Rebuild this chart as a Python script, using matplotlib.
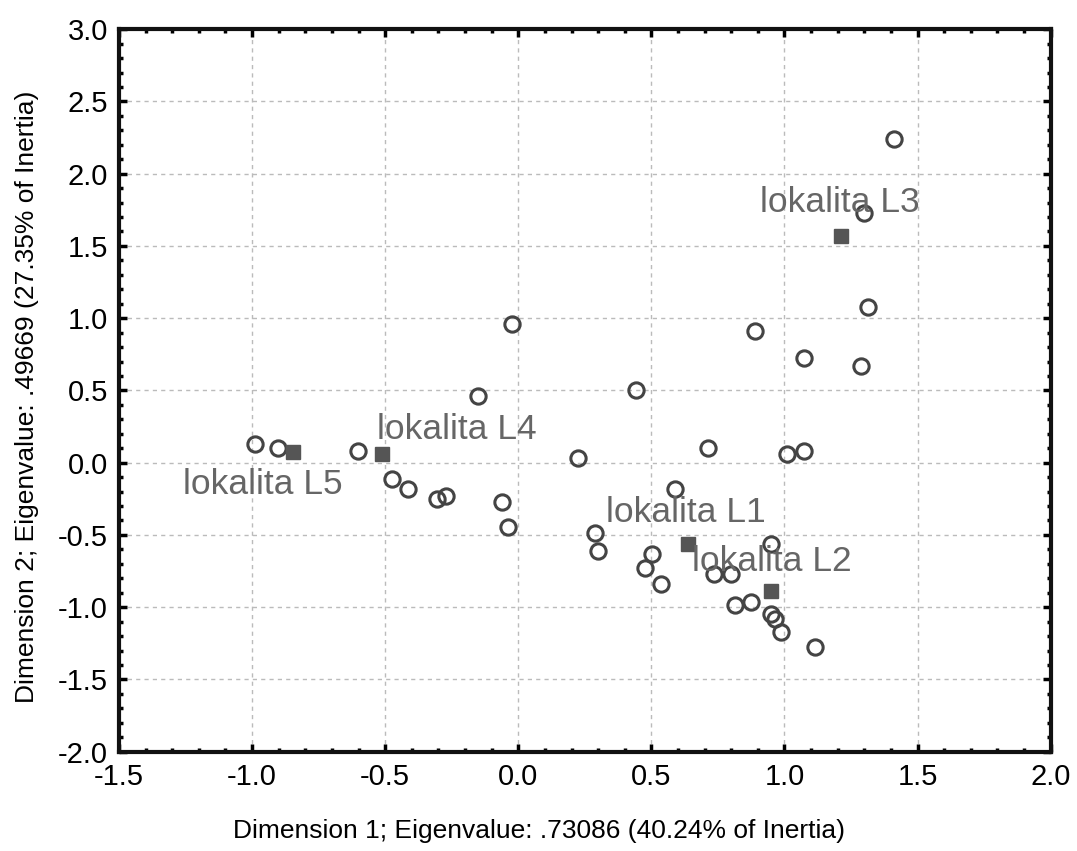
import matplotlib
matplotlib.use("Agg")
import matplotlib.pyplot as plt
from matplotlib.ticker import MultipleLocator, FixedLocator, FixedFormatter

# column (row-point) coordinates - open circles
circ_x = [1.41, 1.30, 1.314, 0.888, 1.073, 1.288,
          0.225, 0.713, 1.011, 1.073, 0.588, 0.287, 0.300, 0.951,
          0.502, 0.475, 0.537, 0.735, 0.800, 0.813, 0.875, 0.951,
          0.964, 0.988, 1.114, 0.441,
          -0.023, -0.151, -0.989, -0.902, -0.601, -0.476, -0.414,
          -0.305, -0.272, -0.061, -0.038]
circ_y = [2.24, 1.73, 1.08, 0.914, 0.723, 0.672,
          0.035, 0.104, 0.059, 0.082, -0.181, -0.488, -0.608, -0.562,
          -0.633, -0.726, -0.839, -0.770, -0.770, -0.984, -0.961, -1.049,
          -1.081, -1.173, -1.273, 0.504,
          0.958, 0.462, 0.130, 0.104, 0.082, -0.114, -0.183,
          -0.253, -0.230, -0.273, -0.442]

# locality points - filled squares
loc_names = ["lokalita L1", "lokalita L2", "lokalita L3", "lokalita L4", "lokalita L5"]
loc_x = [0.638, 0.951, 1.214, -0.511, -0.848]
loc_y = [-0.562, -0.887, 1.57, 0.061, 0.077]
# label anchor (left edge, vertical centre) in data units
lab_x = [0.331, 0.651, 0.907, -0.529, -1.26]
lab_y = [-0.347, -0.684, 1.798, 0.227, -0.154]

xticks = [-1.5, -1.0, -0.5, 0.0, 0.5, 1.0, 1.5, 2.0]
yticks = [-2.0, -1.5, -1.0, -0.5, 0.0, 0.5, 1.0, 1.5, 2.0, 2.5, 3.0]

fig = plt.figure(figsize=(10.77, 8.51), dpi=100)
ax = fig.add_axes([0.1105, 0.1167, 0.865, 0.849])

ax.grid(True, which="major", color="#bbbbbb", linestyle=(0, (3, 3)), linewidth=1)
ax.set_axisbelow(True)

ax.plot(circ_x, circ_y, "o", markersize=11, markerfacecolor="none",
        markeredgecolor="#444444", markeredgewidth=2.2, zorder=3)
ax.plot(loc_x, loc_y, "s", markersize=10, color="#555555", zorder=3)

for name, tx, ty in zip(loc_names, lab_x, lab_y):
    ax.text(tx, ty, name, fontsize=25.5, color="#666666", family="Liberation Sans",
            ha="left", va="center", zorder=4)

ax.set_xlim(-1.5, 2.0)
ax.set_ylim(-2.0, 3.0)
ax.xaxis.set_major_locator(FixedLocator(xticks))
ax.yaxis.set_major_locator(FixedLocator(yticks))
ax.xaxis.set_major_formatter(FixedFormatter([f"{v:.1f}" for v in xticks]))
ax.yaxis.set_major_formatter(FixedFormatter([f"{v:.1f}" for v in yticks]))
ax.xaxis.set_minor_locator(MultipleLocator(0.1))
ax.yaxis.set_minor_locator(MultipleLocator(0.1))

ax.tick_params(which="both", direction="in", top=True, right=True, color="black")
ax.tick_params(which="major", length=6, width=2.5, labelsize=21, pad=8)
ax.tick_params(which="minor", length=3, width=2.5)
for lab in ax.get_xticklabels() + ax.get_yticklabels():
    lab.set_family("Liberation Sans")

for sp in ax.spines.values():
    sp.set_linewidth(3)
    sp.set_color("#111111")

ax.set_xlabel("Dimension 1; Eigenvalue: .73086 (40.24% of Inertia)",
              fontsize=19, family="Liberation Sans")
ax.set_ylabel("Dimension 2; Eigenvalue: .49669 (27.35% of Inertia)",
              fontsize=19, family="Liberation Sans")
ax.xaxis.set_label_coords(0.451, -0.093)
ax.yaxis.set_label_coords(-0.086, 0.491)

fig.savefig("out.png", dpi=100, facecolor="white")
